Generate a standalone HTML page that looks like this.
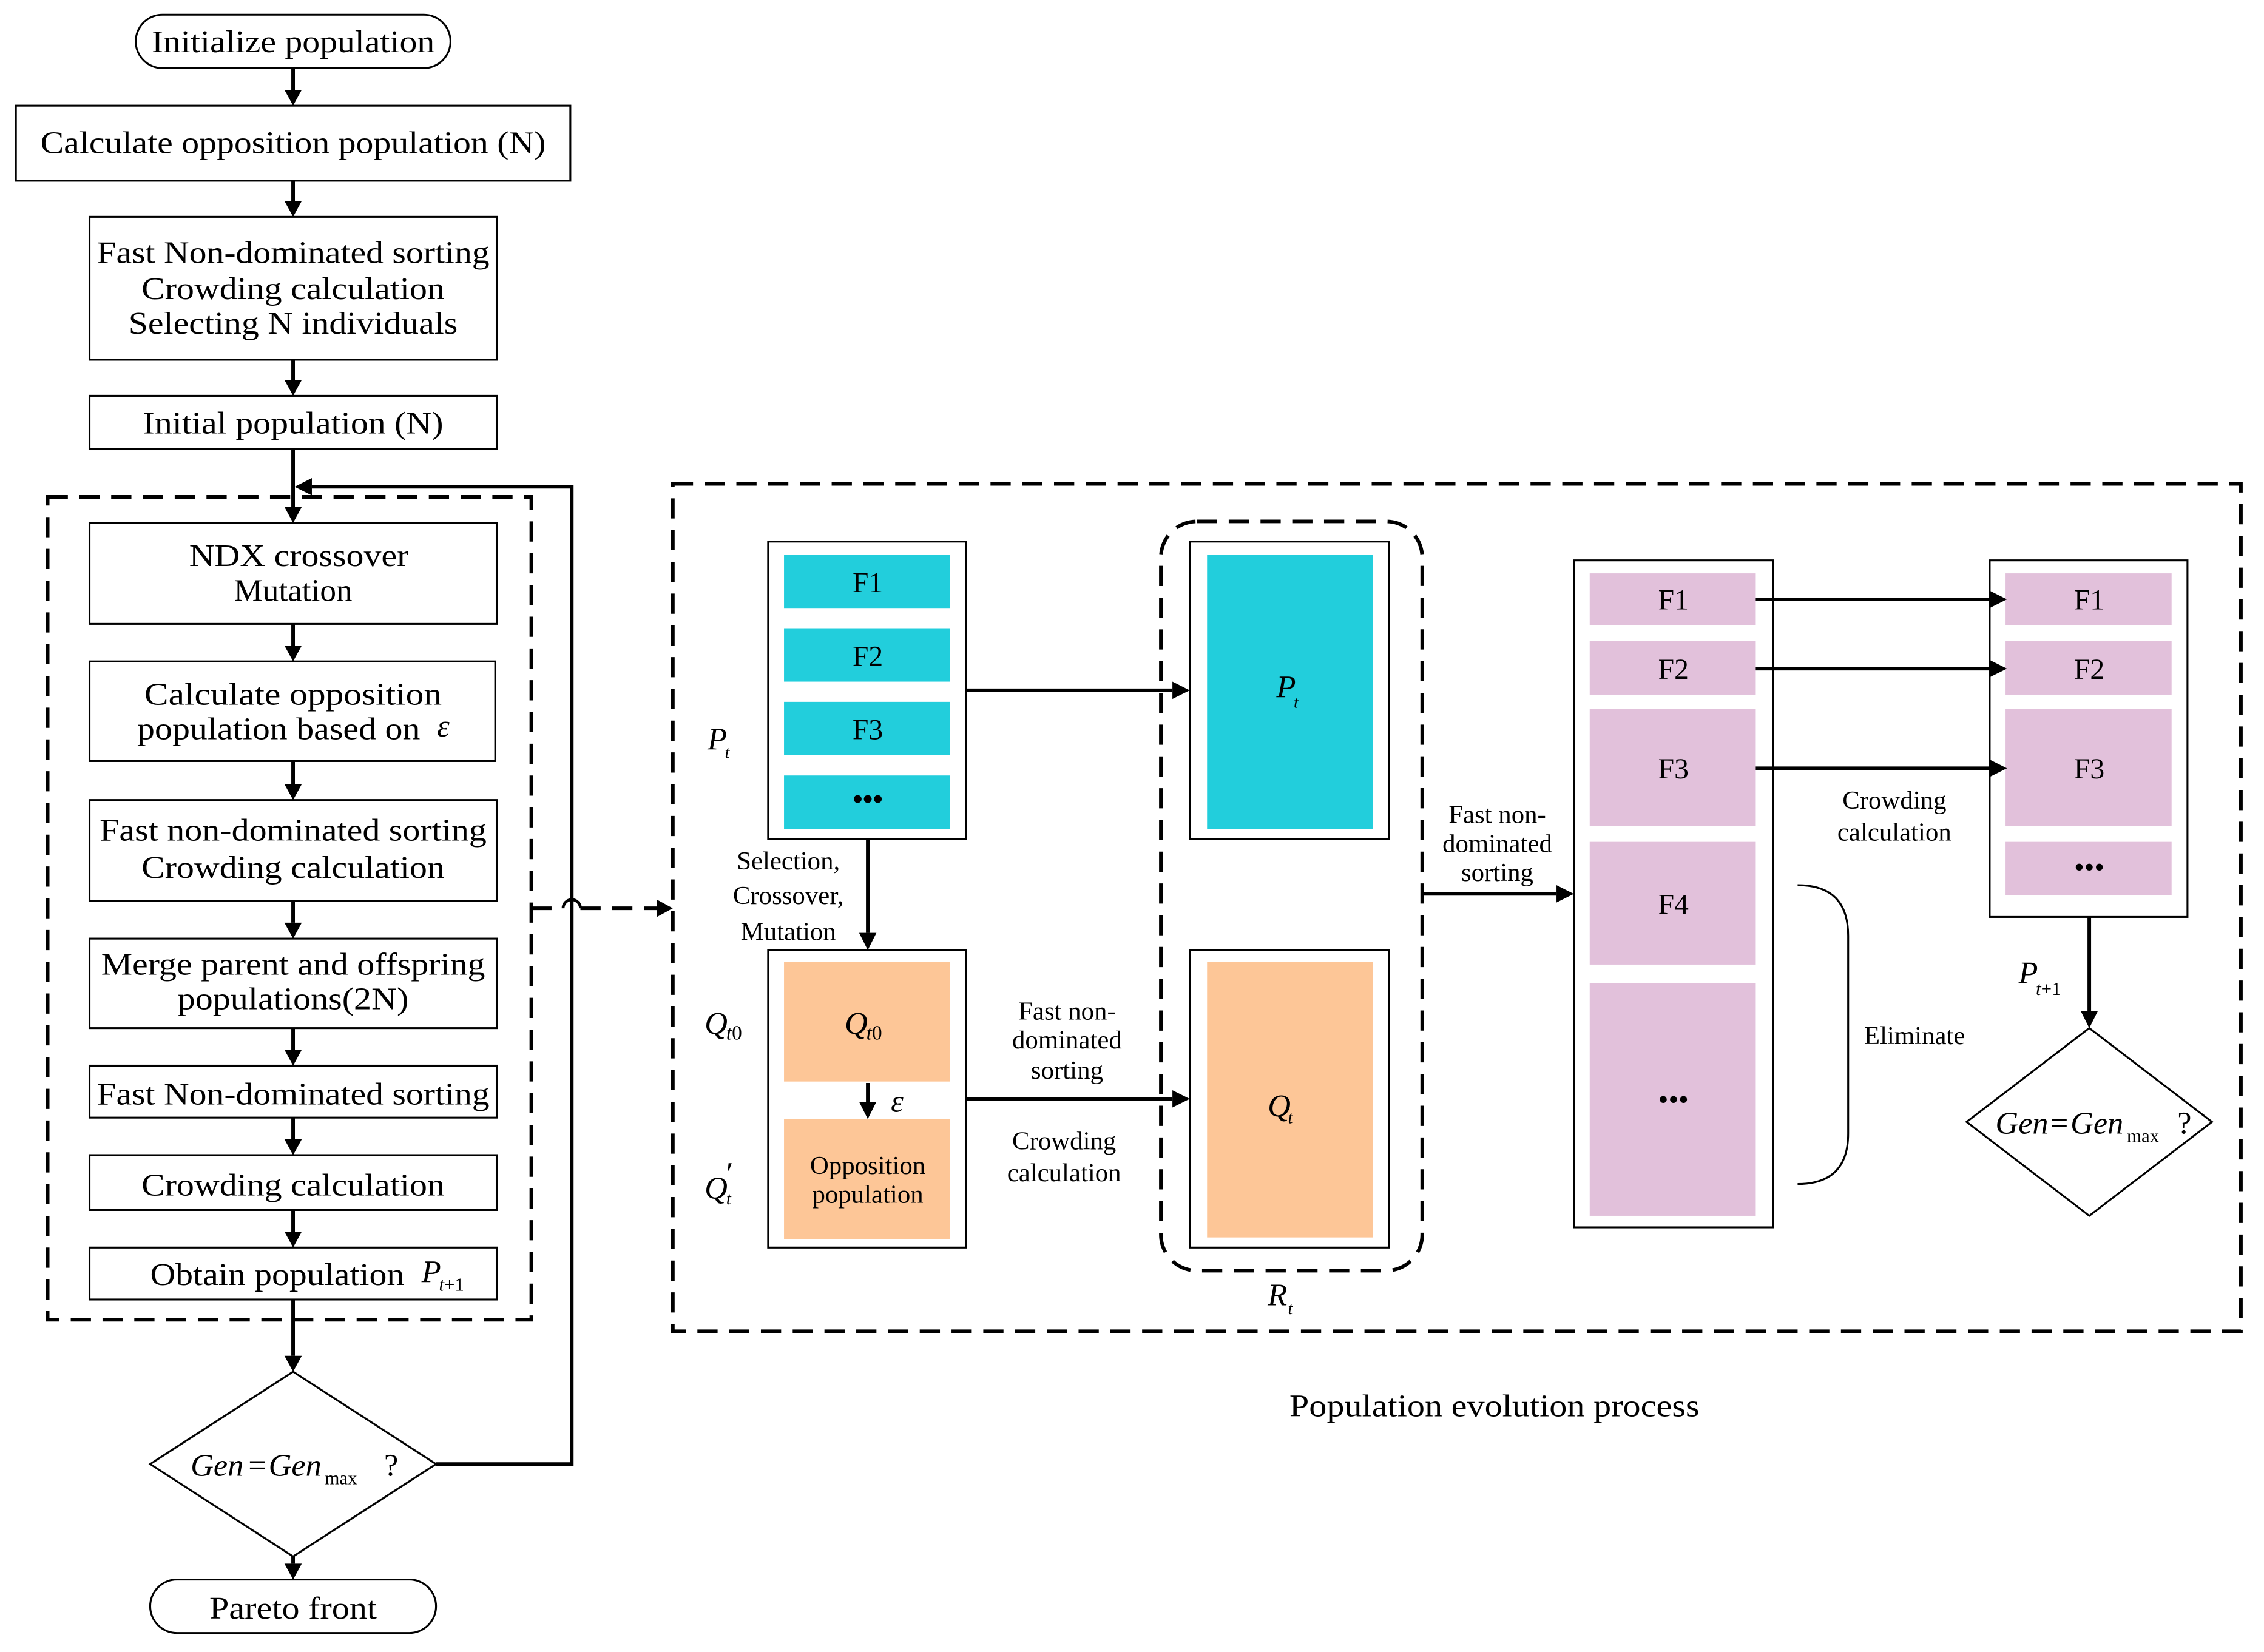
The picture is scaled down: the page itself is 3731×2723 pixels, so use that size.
<!DOCTYPE html>
<html><head><meta charset="utf-8"><style>
html,body{margin:0;padding:0;background:#fff}
svg{display:block}
text{font-family:"Liberation Serif",serif;fill:#000}
</style></head><body>
<svg width="3731" height="2723" viewBox="0 0 1568 1144" xmlns="http://www.w3.org/2000/svg">
<rect width="1568" height="1144" fill="#fff"/>
<g fill="none" stroke="#000" stroke-width="1.3">
<rect x="94" y="10" width="218" height="37" rx="18.5"/>
<rect x="11" y="73" width="384" height="52"/>
<rect x="62" y="150" width="282" height="99"/>
<rect x="62" y="274" width="282" height="37"/>
<rect x="62" y="362" width="282" height="70"/>
<rect x="62" y="458" width="281" height="69"/>
<rect x="62" y="554" width="282" height="70"/>
<rect x="62" y="650" width="282" height="62"/>
<rect x="62" y="738" width="282" height="36"/>
<rect x="62" y="800" width="282" height="38"/>
<rect x="62" y="864" width="282" height="36"/>
<polygon points="203,950 302,1014 203,1078 104,1014"/>
<rect x="104" y="1094" width="198" height="37" rx="18.5"/>
<rect x="532" y="375" width="137" height="206"/>
<rect x="532" y="658" width="137" height="206"/>
<rect x="824" y="375" width="138" height="206"/>
<rect x="824" y="658" width="138" height="206"/>
<rect x="1090" y="388" width="138" height="462"/>
<rect x="1378" y="388" width="137" height="247"/>
<polygon points="1447,712 1532,777 1447,842 1362,777"/>
<path d="M1245,613 Q1280,613 1280,648 L1280,785 Q1280,820 1245,820"/>
</g>
<g fill="none" stroke="#000" stroke-width="2.5" stroke-dasharray="14,8">
<rect x="33" y="344" width="335" height="570"/>
<rect x="466" y="335" width="1086" height="587"/>
<rect x="804" y="361" width="181" height="519" rx="25"/>
<path d="M368,629 L390,629 M402,629 L456,629"/>
</g>
<path d="M390,629 A6,6 0 0 1 402,629" fill="none" stroke="#000" stroke-width="2"/>
<g fill="#22CEDC">
<rect x="543" y="384" width="115" height="37"/><rect x="543" y="435" width="115" height="37"/>
<rect x="543" y="486" width="115" height="37"/><rect x="543" y="537" width="115" height="37"/>
<rect x="836" y="384" width="115" height="190"/>
</g>
<g fill="#FDC697">
<rect x="543" y="666" width="115" height="83"/><rect x="543" y="775" width="115" height="83"/>
<rect x="836" y="666" width="115" height="191"/>
</g>
<g fill="#E2C1DB">
<rect x="1101" y="397" width="115" height="36"/><rect x="1101" y="444" width="115" height="37"/>
<rect x="1101" y="491" width="115" height="81"/><rect x="1101" y="583" width="115" height="85"/>
<rect x="1101" y="681" width="115" height="161"/>
<rect x="1389" y="397" width="115" height="36"/><rect x="1389" y="444" width="115" height="37"/>
<rect x="1389" y="491" width="115" height="81"/><rect x="1389" y="583" width="115" height="37"/>
</g>
<g stroke="#000" stroke-width="2.5" fill="none">
<path d="M203,47V62 M203,125V139 M203,249V263 M203,311V351 M203,432V447 M203,527V543 M203,624V639 M203,712V727 M203,774V789 M203,838V853 M203,900V939 M203,1078V1083"/>
<path d="M302,1014H396V337H216"/>
<path d="M601,581V646 M601,750V763 M669,478H812 M669,761H812 M985,619H1078 M1216,415H1378 M1216,463H1378 M1216,532H1378 M1447,635V700"/>
</g>
<g fill="#000">
<polygon points="197,62 209,62 203,73"/><polygon points="197,139 209,139 203,150"/>
<polygon points="197,263 209,263 203,274"/><polygon points="197,351 209,351 203,362"/>
<polygon points="197,447 209,447 203,458"/><polygon points="197,543 209,543 203,554"/>
<polygon points="197,639 209,639 203,650"/><polygon points="197,727 209,727 203,738"/>
<polygon points="197,789 209,789 203,800"/><polygon points="197,853 209,853 203,864"/>
<polygon points="197,939 209,939 203,950"/><polygon points="197,1083 209,1083 203,1094"/>
<polygon points="216,331 216,343 204,337"/>
<polygon points="455,623 455,635 466,629"/>
<polygon points="595,646 607,646 601,658"/><polygon points="595,763 607,763 601,775"/>
<polygon points="812,472 812,484 824,478"/><polygon points="812,755 812,767 824,761"/>
<polygon points="1078,613 1078,625 1090,619"/>
<polygon points="1378,409 1378,421 1390,415"/><polygon points="1378,457 1378,469 1390,463"/>
<polygon points="1378,526 1378,538 1390,532"/>
<polygon points="1441,700 1453,700 1447,712"/>
</g>
<g font-size="22" text-anchor="middle">
<text x="203" y="36" textLength="196" lengthAdjust="spacingAndGlyphs">Initialize population</text>
<text x="203" y="106" textLength="350" lengthAdjust="spacingAndGlyphs">Calculate opposition population (N)</text>
<text x="203" y="182" textLength="272" lengthAdjust="spacingAndGlyphs">Fast Non-dominated sorting</text>
<text x="203" y="207" textLength="210" lengthAdjust="spacingAndGlyphs">Crowding calculation</text>
<text x="203" y="231" textLength="228" lengthAdjust="spacingAndGlyphs">Selecting N individuals</text>
<text x="203" y="300" textLength="208" lengthAdjust="spacingAndGlyphs">Initial population (N)</text>
<text x="207" y="392" textLength="152" lengthAdjust="spacingAndGlyphs">NDX crossover</text>
<text x="203" y="416" textLength="82" lengthAdjust="spacingAndGlyphs">Mutation</text>
<text x="203" y="488" textLength="206" lengthAdjust="spacingAndGlyphs">Calculate  opposition</text>
<text x="193" y="512" textLength="196" lengthAdjust="spacingAndGlyphs">population based on</text>
<text x="307" y="510" font-style="italic">ε</text>
<text x="203" y="582" textLength="268" lengthAdjust="spacingAndGlyphs">Fast non-dominated sorting</text>
<text x="203" y="608" textLength="210" lengthAdjust="spacingAndGlyphs">Crowding calculation</text>
<text x="203" y="675" textLength="266" lengthAdjust="spacingAndGlyphs">Merge parent and offspring</text>
<text x="203" y="699" textLength="160" lengthAdjust="spacingAndGlyphs">populations(2N)</text>
<text x="203" y="765" textLength="272" lengthAdjust="spacingAndGlyphs">Fast Non-dominated sorting</text>
<text x="203" y="828" textLength="210" lengthAdjust="spacingAndGlyphs">Crowding calculation</text>
<text x="192" y="890" textLength="176" lengthAdjust="spacingAndGlyphs">Obtain population</text>
<text x="203" y="1121" textLength="116" lengthAdjust="spacingAndGlyphs">Pareto front</text>
<text x="1035" y="981" textLength="284" lengthAdjust="spacingAndGlyphs">Population evolution process</text>
</g>
<g font-size="22" font-style="italic">
<text x="292" y="888">P</text><text x="304" y="894" font-size="13">t<tspan font-style="normal">+1</tspan></text>
<text x="132" y="1022">Gen</text><text x="172" y="1022" font-style="normal">=</text><text x="186" y="1022">Gen</text>
<text x="225" y="1028" font-size="13" font-style="normal">max</text><text x="266" y="1022" font-style="normal">?</text>
<text x="1382" y="785">Gen</text><text x="1420" y="785" font-style="normal">=</text><text x="1434" y="785">Gen</text>
<text x="1473" y="791" font-size="13" font-style="normal">max</text><text x="1508" y="785" font-style="normal">?</text>
<text x="490" y="519">P</text><text x="502" y="525" font-size="12">t</text>
<text x="488" y="716">Q</text><text x="503" y="720" font-size="14">t<tspan font-style="normal">0</tspan></text>
<text x="488" y="830">Q</text><text x="503" y="820" font-size="22" font-style="normal">′</text><text x="503" y="834" font-size="12">t</text>
<text x="585" y="716">Q</text><text x="600" y="720" font-size="14">t<tspan font-style="normal">0</tspan></text>
<text x="617" y="770">ε</text>
<text x="884" y="483">P</text><text x="896" y="490" font-size="12">t</text>
<text x="878" y="773">Q</text><text x="892" y="778" font-size="12">t</text>
<text x="878" y="904">R</text><text x="892" y="910" font-size="12">t</text>
<text x="1398" y="681">P</text><text x="1410" y="689" font-size="13">t<tspan font-style="normal">+1</tspan></text>
</g>
<g font-size="20" text-anchor="middle">
<text x="601" y="410">F1</text><text x="601" y="461">F2</text><text x="601" y="512">F3</text>
<text x="601" y="560" font-weight="bold">•••</text>
<text x="1159" y="422">F1</text><text x="1159" y="470">F2</text><text x="1159" y="539">F3</text><text x="1159" y="633">F4</text>
<text x="1159" y="768">•••</text>
<text x="1447" y="422">F1</text><text x="1447" y="470">F2</text><text x="1447" y="539">F3</text>
<text x="1447" y="607">•••</text>
</g>
<g font-size="18" text-anchor="middle">
<text x="601" y="813">Opposition</text><text x="601" y="833">population</text>
<text x="546" y="602">Selection,</text><text x="546" y="626">Crossover,</text><text x="546" y="651">Mutation</text>
<text x="739" y="706">Fast non-</text><text x="739" y="726">dominated</text><text x="739" y="747">sorting</text>
<text x="737" y="796">Crowding</text><text x="737" y="818">calculation</text>
<text x="1037" y="570">Fast non-</text><text x="1037" y="590">dominated</text><text x="1037" y="610">sorting</text>
<text x="1312" y="560">Crowding</text><text x="1312" y="582">calculation</text>
<text x="1326" y="723">Eliminate</text>
</g>
</svg>
</body></html>
